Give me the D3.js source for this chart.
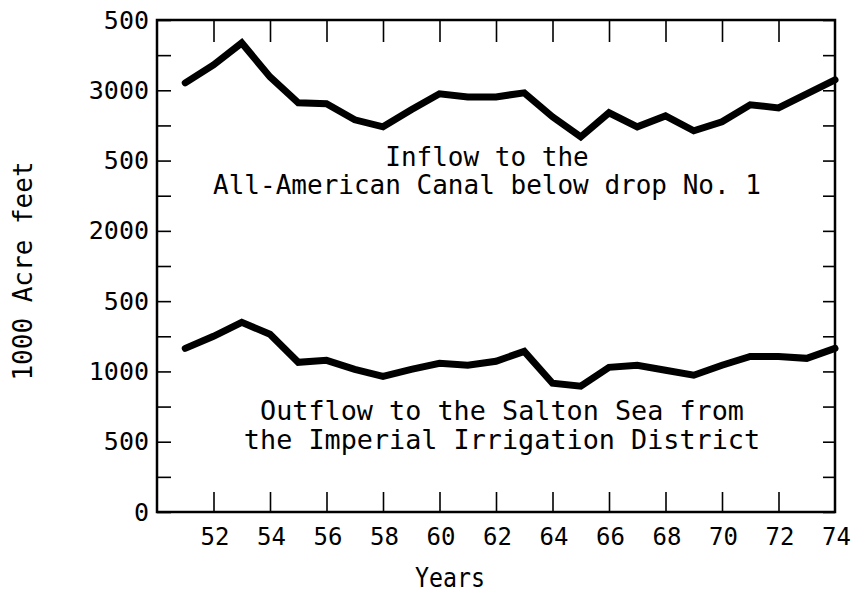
<!DOCTYPE html>
<html><head><meta charset="utf-8">
<script src="https://cdn.jsdelivr.net/npm/d3@7"></script>
<style>
html,body{margin:0;padding:0;background:#fff;}
svg{display:block;}
text{font-family:"DejaVu Sans Mono",monospace;fill:#000;}
</style></head>
<body>
<svg id="chart" width="851" height="593"></svg>
<script>
const years = [51,52,53,54,55,56,57,58,59,60,61,62,63,64,65,66,67,68,69,70,71,72,73,74];
const inflow = [3053,3180,3337,3095,2911,2904,2790,2740,2861,2975,2953,2953,2982,2811,2669,2840,2740,2818,2712,2776,2897,2875,2975,3074];
const outflow = [1164,1250,1349,1264,1065,1079,1015,965,1015,1058,1044,1072,1143,916,895,1029,1044,1008,973,1044,1107,1107,1093,1164];
const yTickValues = [0,500,1000,1500,2000,2500,3000,3500];
const yTickLabels = ["0","500","1000","500","2000","500","3000","500"];
const xTickValues = [52,54,56,58,60,62,64,66,68,70,72,74];
const inflowLabel = ["Inflow to the","All-American Canal below drop No. 1"];
const outflowLabel = ["Outflow to the Salton Sea from","the Imperial Irrigation District"];

const svg = d3.select("#chart");
const L = 157, R = 835, T = 20, B = 512;
const x = d3.scaleLinear().domain([50,74]).range([L,R]);
const y = d3.scaleLinear().domain([0,3500]).range([B,T]);

const minorY = d3.range(0,3501,250);

// frame
svg.append("rect").attr("x",L).attr("y",T).attr("width",R-L).attr("height",B-T)
  .attr("fill","none").attr("stroke","#000").attr("stroke-width",2.5);

// left axis (ticks inward)
const gl = svg.append("g").attr("transform",`translate(${L},0)`)
  .call(d3.axisRight(y).tickValues(minorY).tickSize(14).tickFormat(""));
gl.select(".domain").remove();
gl.selectAll("line").attr("stroke","#000").attr("stroke-width",1.6);

// left labels
const labelMap = new Map(yTickValues.map((v,i)=>[v,yTickLabels[i]]));
const glab = svg.append("g").attr("transform",`translate(${L},0)`)
  .call(d3.axisLeft(y).tickValues(yTickValues).tickSize(0).tickPadding(8).tickFormat(d=>labelMap.get(d)));
glab.select(".domain").remove();
glab.selectAll("text").attr("font-size",25).attr("font-family","DejaVu Sans Mono");

// right axis (ticks inward)
const gr = svg.append("g").attr("transform",`translate(${R},0)`)
  .call(d3.axisLeft(y).tickValues(minorY).tickSize(12).tickFormat(""));
gr.select(".domain").remove();
gr.selectAll("line").attr("stroke","#000").attr("stroke-width",1.6);

// top ticks (inward)
const gt = svg.append("g").attr("transform",`translate(0,${T})`)
  .call(d3.axisBottom(x).tickValues(xTickValues.slice(0,-1)).tickSize(22).tickFormat(""));
gt.select(".domain").remove();
gt.selectAll("line").attr("stroke","#000").attr("stroke-width",1.6);

// bottom ticks (inward)
const gb = svg.append("g").attr("transform",`translate(0,${B})`)
  .call(d3.axisTop(x).tickValues(xTickValues.slice(0,-1)).tickSize(20).tickFormat(""));
gb.select(".domain").remove();
gb.selectAll("line").attr("stroke","#000").attr("stroke-width",1.6);

// bottom labels
const gbl = svg.append("g").attr("transform",`translate(1,${B})`)
  .call(d3.axisBottom(x).tickValues(xTickValues).tickSize(0).tickPadding(16).tickFormat(d=>String(d)));
gbl.select(".domain").remove();
gbl.selectAll("text").attr("font-size",24).attr("font-family","DejaVu Sans Mono");

// lines
const line = d3.line().x((d,i)=>x(years[i])).y(d=>y(d));
[inflow,outflow].forEach(s=>{
  svg.append("path").datum(s).attr("d",line).attr("fill","none")
    .attr("stroke","#000").attr("stroke-width",7).attr("stroke-linejoin","miter").attr("stroke-linecap","round");
});

// annotations
function block(lines, cx, y0, dy, fs){
  lines.forEach((t,i)=>{
    svg.append("text").attr("x",cx).attr("y",y0+i*dy).attr("text-anchor","middle")
      .attr("font-size",fs).text(t);
  });
}
block(inflowLabel, 487, 166, 28, 26);
block(outflowLabel, 502, 420, 29, 26.8);

// axis titles
svg.append("text").attr("x",450).attr("y",587).attr("text-anchor","middle").attr("font-size",26)
  .attr("textLength",70).attr("lengthAdjust","spacingAndGlyphs").text("Years");
svg.append("text").attr("transform","translate(32,271) rotate(-90)").attr("text-anchor","middle")
  .attr("font-size",26).text("1000 Acre feet");
</script>
</body></html>
